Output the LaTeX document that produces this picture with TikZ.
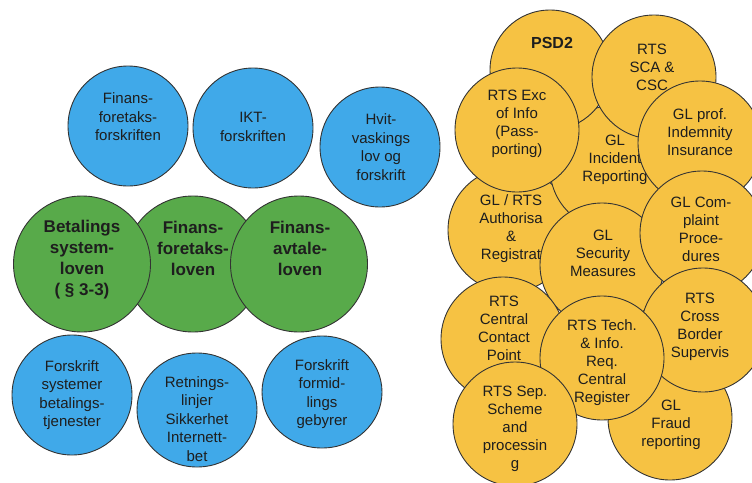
\documentclass[tikz,border=0pt]{standalone}
\usepackage{fontspec}
\setmainfont{Liberation Sans}
\usetikzlibrary{shapes.geometric}
\definecolor{regblue}{RGB}{64,169,233}
\definecolor{reggreen}{RGB}{88,170,74}
\definecolor{reggold}{RGB}{246,194,67}
\definecolor{regink}{RGB}{30,30,30}
\begin{document}
\begin{tikzpicture}[x=1pt,y=-1pt]
\tikzset{
    regBall/.style={ellipse,draw=black!80,line width=0.9pt,minimum width=122pt,minimum height=122pt,inner sep=0pt},
    regBlue/.style={regBall,fill=regblue,minimum width=120pt,minimum height=120pt},
    regGreen/.style={regBall,fill=reggreen,minimum width=137pt,minimum height=136pt},
    regGold/.style={regBall,fill=reggold,minimum width=124pt,minimum height=124pt},
    regText/.style={align=center,inner sep=0pt,text=regink,font=\fontsize{15}{18.5}\selectfont},
    regGoldText/.style={regText,font=\fontsize{15}{18}\selectfont},
    regLaw/.style={regText,font=\fontsize{17}{21}\selectfont\bfseries},
}
\useasboundingbox (0,0) rectangle (752,482);
\clip (0,0) rectangle (752,482);

% national rules, top row
\node[regBlue] (fft) at (128,126) {};
\node[regText] (fftTxt) at (128,117) {Finans-\\foretaks-\\forskriften};
\node[regBlue] (ikt) at (253,128) {};
\node[regText] (iktTxt) at (253,127) {IKT-\\forskriften};
\node[regBlue] (hvit) at (380,147) {};
\node[regText] (hvitTxt) at (381,147) {Hvit-\\vaskings\\lov og\\forskrift};

% the three acts
\node[regGreen] (fforetak) at (193,264) {};
\node[regLaw] (fforetakTxt) at (193,248) {Finans-\\foretaks-\\loven};
\node[regGreen] (betsys) at (82,264) {};
\node[regLaw] (betsysTxt) at (82,260) {Betalings\\system-\\loven\\( § 3-3)};
\node[regGreen] (favtale) at (299,264) {};
\node[regLaw] (favtaleTxt) at (300,248) {Finans-\\avtale-\\loven};

% national rules, bottom row
\node[regBlue] (fsys) at (72,395) {};
\node[regText] (fsysTxt) at (72,395) {Forskrift\\systemer\\betalings-\\tjenester};
\node[regBlue,minimum height=114pt] (rlinjer) at (197,410) {};
\node[regText] (rlinjerTxt) at (197,419) {Retnings-\\linjer\\Sikkerhet\\Internett-\\bet};
\node[regBlue,minimum height=112pt] (fgeb) at (322,392) {};
\node[regText] (fgebTxt) at (322,394) {Forskrift\\formid-\\lings\\gebyrer};

% EU level: PSD2 with its RTS and guidelines
\node[regGold] (auth) at (510,230) {};
\node[regGoldText] (authTxt) at (511,229) {GL / RTS\\Authorisa\\\&\\Registrat};
\node[regGold] (incid) at (612,168) {};
\node[regGoldText] (incidTxt) at (615,160) {GL\\Incident\\Reporting};
\node[regGold,minimum width=120pt,minimum height=120pt] (psd) at (550,70) {};
\node[regLaw,font=\fontsize{16}{20}\selectfont\bfseries] (psdTxt) at (552,43) {PSD2};
\node[regGold] (sca) at (654,77) {};
\node[regGoldText] (scaTxt) at (652,67) {RTS\\SCA \&\\CSC};
\node[regGold] (exc) at (517,130) {};
\node[regGoldText] (excTxt) at (517,124) {RTS Exc\\of Info\\(Pass-\\porting)};
\node[regGold] (indem) at (700,143) {};
\node[regGoldText] (indemTxt) at (700,132) {GL prof.\\Indemnity\\Insurance};
\node[regGold] (secur) at (602,265) {};
\node[regGoldText] (securTxt) at (603,253) {GL\\Security\\Measures};
\node[regGold] (compl) at (702,233) {};
\node[regGoldText] (complTxt) at (701,229) {GL Com-\\plaint\\Proce-\\dures};
\node[regGold] (fraud) at (670,418) {};
\node[regGoldText] (fraudTxt) at (671,425) {GL\\Fraud\\reporting};
\node[regGold] (contact) at (503,339) {};
\node[regGoldText] (contactTxt) at (504,328) {RTS\\Central\\Contact\\Point};
\node[regGold] (cross) at (703,330) {};
\node[regGoldText] (crossTxt) at (700,327) {RTS\\Cross\\Border\\Supervis};
\node[regGold] (techreq) at (602,358) {};
\node[regGoldText] (techreqTxt) at (602,363) {RTS Tech.\\\& Info.\\Req.\\Central\\Register};
\node[regGold] (sepsch) at (515,424) {};
\node[regGoldText] (sepschTxt) at (515,429) {RTS Sep.\\Scheme\\and\\processin\\g};
\end{tikzpicture}
\end{document}
